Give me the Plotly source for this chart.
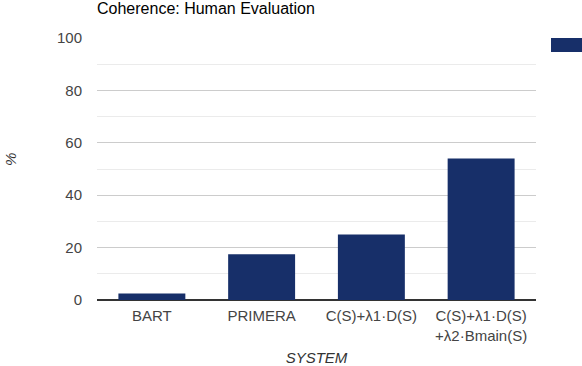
import plotly.graph_objects as go

systems = ["BART", "PRIMERA", "C(S)+λ1·D(S)", "C(S)+λ1·D(S)<br>+λ2·Bmain(S)"]
coherence = [2.5, 17.5, 25, 54]
y_ticks = [0, 20, 40, 60, 80, 100]

BAR_COLOR = "#172f69"
FONT = "Liberation Sans, Arial, sans-serif"
W, H = 582, 366
L, R, T, B = 97, 46, 38, 66

fig = go.Figure(
    go.Bar(
        x=systems,
        y=coherence,
        marker=dict(color=BAR_COLOR, line=dict(width=0)),
        name="%",
        showlegend=False,
    )
)

# legend swatch, the label runs off the right edge in the original
pw = W - L - R
ph = H - T - B
fig.add_shape(
    type="rect",
    xref="paper", yref="paper",
    x0=(551 - L) / pw, x1=(585 - L) / pw,
    y0=1 - 14 / ph, y1=1.0,
    fillcolor=BAR_COLOR, line=dict(width=0),
)

# y axis title, placed by hand like the google chart does
fig.add_annotation(
    text="<i>%</i>",
    textangle=-90,
    xref="paper", x=0, xanchor="center", xshift=-(L - 10),
    yref="paper", y=(H - B - 160) / ph, yanchor="middle",
    showarrow=False,
    font=dict(size=15, color="#333"),
)

fig.update_layout(
    width=W,
    height=H,
    margin=dict(l=L, r=R, t=T, b=B),
    paper_bgcolor="white",
    plot_bgcolor="white",
    font=dict(family=FONT, size=15, color="#444"),
    bargap=0.39,
    title=dict(
        text="Coherence: Human Evaluation",
        x=L / W, xanchor="left", xref="container",
        y=1 - 8 / H, yanchor="middle", yref="container",
        font=dict(family=FONT, size=16, color="#000"),
    ),
    xaxis=dict(
        title=dict(text="<i>SYSTEM</i>", standoff=16, font=dict(size=15, color="#333")),
        automargin=False,
        showgrid=False,
        showline=False,
        zeroline=False,
        ticklabelstandoff=5,
        tickfont=dict(size=15, color="#444"),
    ),
    yaxis=dict(
        automargin=False,
        range=[0, 100],
        tickvals=y_ticks,
        showgrid=True,
        gridcolor="#cccccc",
        gridwidth=1,
        minor=dict(dtick=10, showgrid=True, gridcolor="#ebebeb", gridwidth=1),
        zeroline=True,
        zerolinecolor="#333333",
        zerolinewidth=2,
        showline=False,
        ticklabelstandoff=14,
        tickfont=dict(size=15, color="#444"),
    ),
)

# page has an 8px body margin by default, drop it so the figure sits at 0,0
fig.write_html(
    "out.html",
    config={"displayModeBar": False},
    post_script="document.body.style.margin='0px';",
)
